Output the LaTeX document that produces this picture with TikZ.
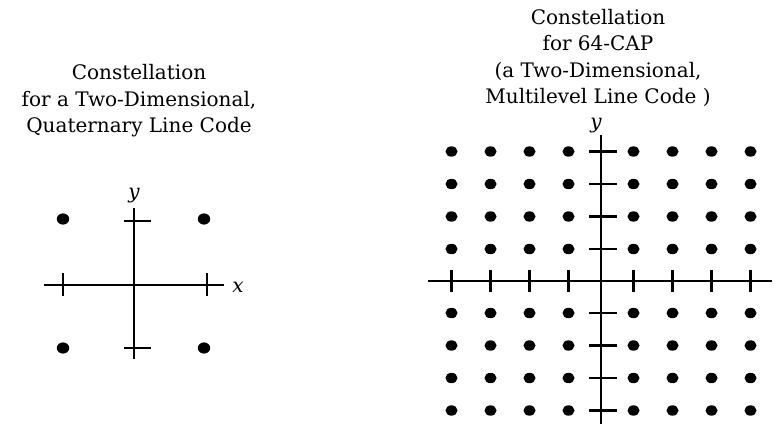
\documentclass[tikz,border=0pt]{standalone}
\usepackage{fontspec}
\setmainfont{DejaVu Serif}
\usetikzlibrary{calc}

\begin{document}
\begin{tikzpicture}[x=1pt,y=-1pt,
    axis/.style={line width=2.8pt},
    tick/.style={line width=2.4pt},
    title/.style={align=center,inner sep=0pt,font=\fontsize{20}{26.5}\selectfont},
    axlabel/.style={inner sep=0pt,font=\fontsize{20}{20}\selectfont\itshape}]
      \useasboundingbox (0,0) rectangle (779,426);

      % quaternary constellation
      \node[title] (qtitle) at (139,101) {Constellation\\for a Two-Dimensional,\\Quaternary Line Code};
      \coordinate (q-o) at (134,285);

      \draw[axis] ($(q-o)+(-90,0)$) -- ($(q-o)+(90,0)$);
      \draw[axis] ($(q-o)+(0,-77)$) -- ($(q-o)+(0,74)$);

      \foreach \sx in {-71,73}
        \draw[tick] ($(q-o)+(\sx,-12)$) -- ($(q-o)+(\sx,11)$);
      \foreach \sy in {-64,63}
        \draw[tick] ($(q-o)+(-10,\sy)$) -- ($(q-o)+(17,\sy)$);

      \foreach \sx in {-71,70}
        \foreach \sy in {-66,63}
          \fill ($(q-o)+(\sx,\sy)$) circle[x radius=6.2pt,y radius=5.6pt];

      \node[axlabel] (qy) at ($(q-o)+(0,-89)$) {y};
      \node[axlabel] (qx) at ($(q-o)+(104,2)$) {x};

      % 64-CAP constellation
      \node[title] (ctitle) at (598,58) {Constellation\\for 64-CAP\\(a Two-Dimensional,\\Multilevel Line Code )};
      \coordinate (c-o) at (601,281);

      \draw[axis] ($(c-o)+(-173,0)$) -- ($(c-o)+(171,0)$);
      \draw[axis] ($(c-o)+(0,-146)$) -- ($(c-o)+(0,143)$);

      \foreach \k in {0,...,3} {
        \foreach \s in {-1,1} {
          \draw[tick] ($(c-o)+({\s*(32.5+39*\k)},-11)$) -- ($(c-o)+({\s*(32.5+39*\k)},11)$);
          \draw[tick] ($(c-o)+(-12,{\s*(32+32.5*\k)})$) -- ($(c-o)+(16,{\s*(32+32.5*\k)})$);
        }
      }

      \foreach \i in {0,...,3}
        \foreach \j in {0,...,3}
          \foreach \sx in {-1,1}
            \foreach \sy in {-1,1}
              \fill ($(c-o)+({\sx*(32.5+39*\i)},{\sy*(32+32.5*\j)})$) circle[x radius=6pt,y radius=5.2pt];

      \node[axlabel] (cy) at ($(c-o)+(-5,-155)$) {y};
    \end{tikzpicture}
\end{document}
